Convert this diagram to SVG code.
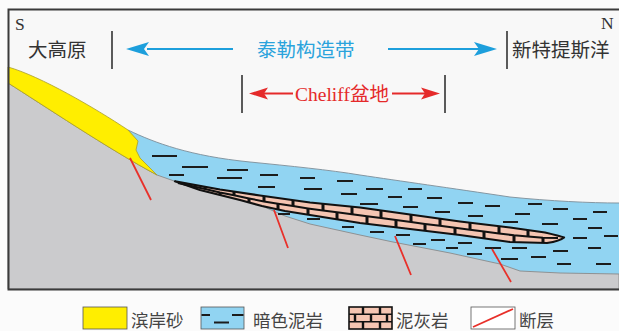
<svg xmlns="http://www.w3.org/2000/svg" width="619" height="331" viewBox="0 0 619 331">
  <defs>
    <style>
      .cjk { font-family: "Noto Sans CJK SC", "Noto Sans", sans-serif; }
      .ser { font-family: "Liberation Serif", "Noto Sans CJK SC", serif; }
      .lbl { font-size: 19.5px; fill: #333; }
      .leg { font-size: 17.5px; fill: #444; }
      .bar { stroke: #333; stroke-width: 1.6; fill: none; }
      .dash { stroke: #1c1c1c; stroke-width: 2.2; fill: none; }
      .fault { stroke: #e8302a; stroke-width: 1.8; fill: none; }
      .tick { stroke: #111; stroke-width: 3; fill: none; }
      .sw { stroke: #555; stroke-width: 0.8; }
    </style>
  </defs>

  <rect x="0" y="0" width="619" height="331" fill="#fbfbfb"/>
  <rect x="8.5" y="9.5" width="620" height="280" fill="#f8f8f8"/>

  <!-- cross-section -->
  <g id="section">
    <!-- dark mudstone body -->
    <path id="mudstone" d="M128,130 C155,143 190,156 250,162 C290,166 330,170 360,175 C400,181 450,188 510,197 C550,201 590,203 619,203 L619,289 L128,289 Z" fill="#91d4f2"/>
    <path d="M128,130 C155,143 190,156 250,162 C290,166 330,170 360,175 C400,181 450,188 510,197 C550,201 590,203 619,203" fill="none" stroke="#7d8d99" stroke-width="0.9"/>

    <!-- basement -->
    <path id="basement" d="M8,83 C40,103 110,150 157,175 L200,190 L240,200 L262,206 L285,216 L310,224 L360,235 L393,242 L450,253 L500,264 L520,271 L560,273 L619,274 L619,289 L8,289 Z" fill="#cbcbcd" stroke="#8a8a8a" stroke-width="0.9"/>

    <!-- shoreface sand -->
    <path id="sand" d="M8,67 C40,76 95,108 128,130 L138,141 L136,150 L140,158 L157,175 C110,150 40,103 8,83 Z" fill="#ffee00" stroke="#a89d2a" stroke-width="0.8"/>

    <!-- marl lens -->
    <g id="marl">
      <path d="M175,181.3 L220,189.5 L260,195.5 L310,202.5 L360,207.5 L410,214.5 L460,221.5 L510,227.5 L545,232.5 Q560,236 564,237.5 Q560,241 547,243 L510,242 L460,235 L410,229 L360,223 L310,215 L285,211 L262,206 L240,200 L200,190 Z" fill="#f5c5b2" stroke="#111" stroke-width="2.2" stroke-linejoin="round"/>
      <path d="M178,183 L205,189.1 L220,192.5 L234,195.3 L249,198.4 L264,201.5 L278,203.8 L293,206.1 L308,208.4 L323,210.4 L337,212.3 L352,214.3 L367,216.2 L381,218 L396,220 L411,222 L425,223.9 L440,225.8 L455,227.8 L470,229.7 L484,231.6 L499,233.6 L514,235.3 L528,236.5 L543,237.7 L558,238" fill="none" stroke="#111" stroke-width="2"/>
      <path class="tick" d="M205,187V189.1 M234,192V195.3 M264,196.3V201.5 M293,200.2V206.1 M323,204V210.4 M352,206.8V214.3 M381,210.5V218 M411,214.7V222 M440,218.8V225.8 M470,222.8V229.7 M499,226.3V233.6 M528,230V236.5 M220,192.5V195 M249,198.4V202.5 M278,203.8V209.5 M308,208.4V214.7 M337,212.3V219.2 M367,216.2V223.8 M396,220V227.3 M425,223.9V230.8 M455,227.8V234.4 M484,231.6V238.4 M514,235.3V242.1 M543,237.7V242.8"/>
    </g>

    <!-- mudstone symbols -->
    <path class="dash" d="M152,156H177 M182,167H208 M169,175H184 M227,170H248 M217,178H242 M260,175H278 M258,187H275 M300,178H315 M304,189H322 M337,181H353 M341,194H357 M366,189H383 M388,197H402 M408,189H422 M427,198H442 M360,204H378 M403,207H418 M458,203H473 M485,206H500 M435,212H450 M468,216H483 M515,214H530 M528,204H542 M503,222H518 M553,209H568 M542,224H558 M593,212H607 M573,219H587 M588,228H602 M604,236H618 M573,238H587 M278,214H290 M307,219H320 M342,227H354 M370,232H384 M396,235H410 M413,244H426 M431,240H445 M446,248H458 M458,243H472 M485,248H501 M467,254H482 M512,248H527 M501,259H518 M531,257H546 M553,251H568 M588,248H601 M557,264H571 M596,264H611"/>

    <!-- faults -->
    <path class="fault" d="M130,158L151,200 M274,210L288,248 M395,236L411,275 M492,249L511,282"/>
  </g>

  <rect x="8.5" y="9.5" width="620" height="280" fill="none" stroke="#3b3b3b" stroke-width="2"/>

  <!-- orientation -->
  <text class="ser" x="15" y="30" font-size="17.5" fill="#333">S</text>
  <text class="ser" x="601" y="28.5" font-size="17.5" fill="#333">N</text>

  <!-- regional labels -->
  <g id="plateau">
    <text class="cjk lbl" x="28" y="56.5">大高原</text>
    <path class="bar" d="M112,31V69"/>
  </g>
  <g id="tellian">
    <path d="M147,49H233 M388,49H480" stroke="#1d9fdc" stroke-width="1.8" fill="none"/>
    <path d="M126,49 L149,42 L144,49 L149,56 Z M497,49 L474,42 L479,49 L474,56 Z" fill="#1d9fdc"/>
    <text class="cjk" x="257" y="56.5" font-size="19.5" fill="#2aa3dc">泰勒构造带</text>
  </g>
  <g id="neotethys">
    <path class="bar" d="M507,31V69"/>
    <text class="cjk lbl" x="512" y="56.5">新特提斯洋</text>
  </g>
  <g id="cheliff">
    <path class="bar" d="M242,75V113 M445,75V113"/>
    <path d="M264,93.5H293 M392,93.5H425" stroke="#e52a2a" stroke-width="1.8" fill="none"/>
    <path d="M249,93.5 L268,87.5 L264,93.5 L268,99.5 Z M440,93.5 L421,87.5 L425,93.5 L421,99.5 Z" fill="#e52a2a"/>
    <text x="295" y="100.5" font-size="19.5" fill="#e52a2a"><tspan class="ser">Cheliff</tspan><tspan class="cjk">盆地</tspan></text>
  </g>

  <!-- legend -->
  <g id="legend">
    <rect class="sw" x="83" y="307" width="44" height="22" fill="#ffee00"/>
    <text class="cjk leg" x="131" y="326.5">滨岸砂</text>

    <rect class="sw" x="201" y="307" width="43" height="22" fill="#91d4f2"/>
    <path class="dash" d="M201.5,315H210 M232,315H243.5 M214,322.5H229"/>
    <text class="cjk leg" x="253" y="326.5">暗色泥岩</text>

    <rect x="349" y="307" width="43" height="22" fill="#f5c5b2" stroke="#111" stroke-width="1.6"/>
    <path d="M349,314.3H392 M349,321.7H392" stroke="#111" stroke-width="1.6"/>
    <path d="M363,307V314.3 M380,307V314.3 M355,314.3V321.7 M371,314.3V321.7 M387,314.3V321.7 M363,321.7V329 M380,321.7V329" stroke="#111" stroke-width="2.4"/>
    <text class="cjk leg" x="396" y="326.5">泥灰岩</text>

    <rect class="sw" x="471" y="307" width="44" height="22" fill="#ffffff"/>
    <path class="fault" d="M473,327L513,309"/>
    <text class="cjk leg" x="519" y="326.5">断层</text>
  </g>
</svg>
